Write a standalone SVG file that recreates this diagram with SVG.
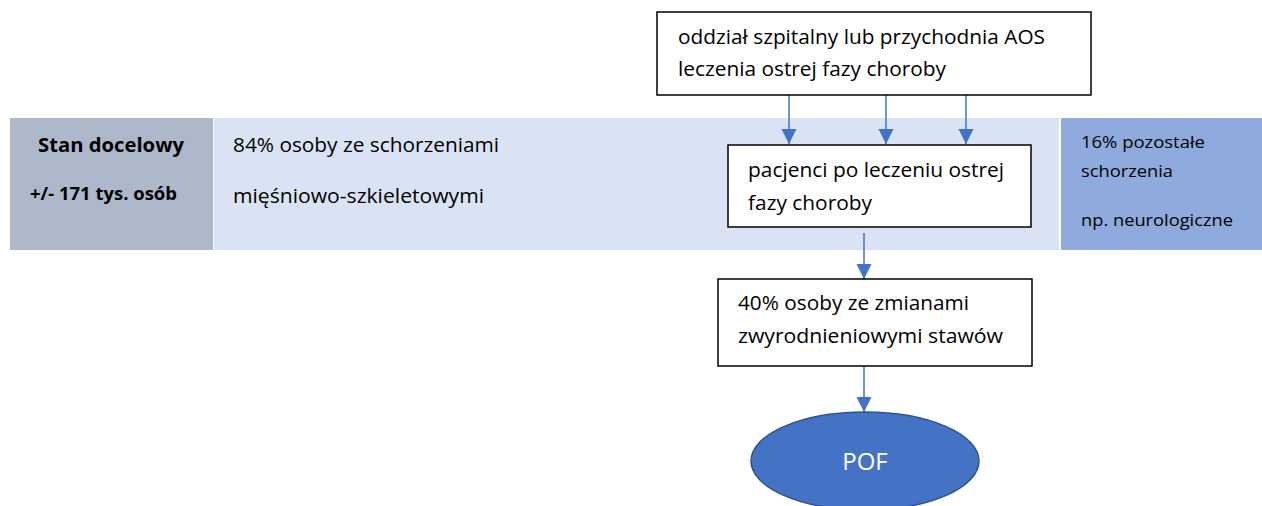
<svg xmlns="http://www.w3.org/2000/svg" width="1262" height="506" viewBox="0 0 1262 506">
  <style>
    text { font-family: "Open Sans", "Liberation Sans", sans-serif; fill: #000; }
    .t19 { font-size: 20px; }
    .t16 { font-size: 17px; }
    .b { font-weight: bold; }
    .box { fill: #fff; stroke: #000; stroke-width: 1.5; }
    .conn { stroke: #4472C4; stroke-width: 1.5; fill: none; marker-end: url(#arrow); }
  </style>
  <defs>
    <marker id="arrow" markerWidth="15" markerHeight="16" refX="15" refY="7.5" orient="auto" markerUnits="userSpaceOnUse">
      <path d="M0,0 L15,7.5 L0,15 Z" fill="#4472C4"/>
    </marker>
  </defs>
  <rect width="1262" height="506" fill="#fff"/>

  <!-- band of target population -->
  <g id="stan-docelowy">
    <rect x="10" y="118" width="203" height="132" fill="#ADB9CA"/>
    <text class="t19 b" x="38" y="152" textLength="146" lengthAdjust="spacingAndGlyphs">Stan docelowy</text>
    <text class="t16 b" x="30" y="200" textLength="147" lengthAdjust="spacingAndGlyphs">+/- 171 tys. osób</text>
  </g>
  <g id="miesniowo-szkieletowe">
    <rect x="214" y="118" width="845" height="132" fill="#DAE3F3"/>
    <text class="t19" x="233" y="152" textLength="266" lengthAdjust="spacingAndGlyphs">84% osoby ze schorzeniami</text>
    <text class="t19" x="233" y="203" textLength="251" lengthAdjust="spacingAndGlyphs">mięśniowo-szkieletowymi</text>
  </g>
  <g id="pozostale">
    <rect x="1061" y="118" width="201" height="132" fill="#8FAADC"/>
    <text class="t16" x="1081" y="148" textLength="124" lengthAdjust="spacingAndGlyphs">16% pozostałe</text>
    <text class="t16" x="1081" y="177" textLength="92" lengthAdjust="spacingAndGlyphs">schorzenia</text>
    <text class="t16" x="1081" y="226" textLength="152" lengthAdjust="spacingAndGlyphs">np. neurologiczne</text>
  </g>

  <!-- connectors -->
  <g id="connectors">
    <line class="conn" x1="789" y1="95" x2="789" y2="144"/>
    <line class="conn" x1="886" y1="95" x2="886" y2="144"/>
    <line class="conn" x1="966" y1="95" x2="966" y2="144"/>
    <line class="conn" x1="864" y1="233" x2="864" y2="279"/>
    <line class="conn" x1="864" y1="366" x2="864" y2="412"/>
  </g>

  <g id="oddzial">
    <rect class="box" x="657" y="12" width="434" height="83"/>
    <text class="t19" x="678" y="44" textLength="367" lengthAdjust="spacingAndGlyphs">oddział szpitalny lub przychodnia AOS</text>
    <text class="t19" x="678" y="76" textLength="268" lengthAdjust="spacingAndGlyphs">leczenia ostrej fazy choroby</text>
  </g>
  <g id="pacjenci">
    <rect class="box" x="728" y="145" width="303" height="82"/>
    <text class="t19" x="748" y="177" textLength="256" lengthAdjust="spacingAndGlyphs">pacjenci po leczeniu ostrej</text>
    <text class="t19" x="748" y="210" textLength="124" lengthAdjust="spacingAndGlyphs">fazy choroby</text>
  </g>
  <g id="zmiany-zwyrodnieniowe">
    <rect class="box" x="718" y="279" width="314" height="87"/>
    <text class="t19" x="738" y="310" textLength="231" lengthAdjust="spacingAndGlyphs">40% osoby ze zmianami</text>
    <text class="t19" x="738" y="343" textLength="265" lengthAdjust="spacingAndGlyphs">zwyrodnieniowymi stawów</text>
  </g>
  <g id="pof">
    <ellipse cx="865" cy="461" rx="114" ry="49" fill="#4472C4" stroke="#2F528F" stroke-width="1.5"/>
    <text x="865" y="470" text-anchor="middle" style="font-size:24px; fill:#fff;">POF</text>
  </g>
</svg>
